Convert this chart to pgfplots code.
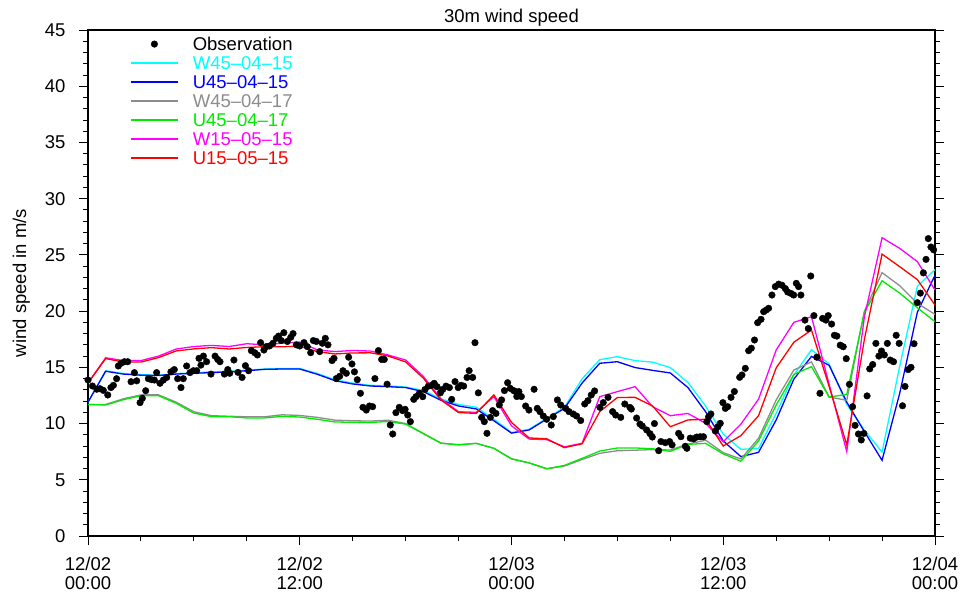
\documentclass[border=0pt]{standalone}
\usepackage{fontspec}
\setmainfont{Liberation Sans}
\newfontfamily\fcyan{Liberation Sans}[Color=00FFFF]
\newfontfamily\fblue{Liberation Sans}[Color=0000FF]
\newfontfamily\fgray{Liberation Sans}[Color=8C8C8C]
\newfontfamily\fgreen{Liberation Sans}[Color=00EB00]
\newfontfamily\fmag{Liberation Sans}[Color=FF00FF]
\newfontfamily\fred{Liberation Sans}[Color=FF0000]
\usepackage{pgfplots}
\pgfplotsset{compat=1.18}
\definecolor{mgray}{RGB}{140,140,140}
\definecolor{mgreen}{RGB}{0,235,0}
\definecolor{mcyan}{RGB}{0,255,255}
\definecolor{mblue}{RGB}{0,0,255}
\definecolor{mmag}{RGB}{255,0,255}
\definecolor{mred}{RGB}{255,0,0}
\pgfplotsset{
  lineleg/.style={legend image code/.code={\draw[#1,line width=1.8pt] (0pt,2.5pt) -- (47pt,2.5pt);}},
}

\pgfplotstableread{
h W4515 U4515 W4517 U4517 W1505 U1505
0 11.9 11.9 11.7 11.7 13.6 13.6
1 14.7 14.65 11.7 11.65 15.85 15.78
2 14.45 14.4 12.2 12.12 15.6 15.47
3 14.35 14.3 12.55 12.47 15.6 15.47
4 14.3 14.27 12.55 12.47 16.0 15.87
5 14.45 14.4 11.9 11.8 16.63 16.46
6 14.5 14.47 11.05 10.93 16.85 16.64
7 14.6 14.53 10.7 10.61 16.95 16.75
8 14.65 14.59 10.65 10.61 16.85 16.63
9 14.75 14.7 10.6 10.5 17.1 16.77
10 14.85 14.82 10.6 10.5 17.0 16.83
11 14.9 14.85 10.78 10.64 17.15 16.83
12 14.9 14.85 10.72 10.58 17.25 16.89
13 14.45 14.38 10.55 10.38 16.55 16.39
14 13.9 13.81 10.3 10.14 16.4 16.19
15 13.6 13.52 10.25 10.11 16.5 16.28
16 13.4 13.34 10.22 10.1 16.45 16.29
17 13.35 13.28 10.3 10.18 16.1 16.01
18 13.25 13.2 10.0 9.95 15.65 15.48
19 12.95 12.84 9.13 9.1 14.2 14.05
20 12.2 12.07 8.27 8.25 12.2 12.1
21 11.7 11.56 8.12 8.1 11.05 10.98
22 11.45 11.3 8.24 8.24 11.0 10.9
23 10.4 10.25 7.8 7.8 12.4 12.55
24 9.2 9.15 6.88 6.85 9.8 10.1
25 9.5 9.43 6.5 6.5 8.62 8.72
26 10.47 10.4 5.98 5.98 8.57 8.64
27 11.44 11.35 6.22 6.28 7.93 7.86
28 13.98 13.6 6.8 6.9 8.24 8.2
29 15.68 15.36 7.35 7.55 12.39 11.06
30 15.95 15.5 7.58 7.83 12.84 12.32
31 15.6 14.98 7.63 7.83 13.28 12.33
32 15.46 14.73 7.68 7.76 11.5 11.56
33 14.98 14.5 7.65 7.53 10.7 9.72
34 13.65 13.2 8.18 8.15 10.9 10.32
35 11.55 11.05 8.52 8.24 10.02 10.38
36 9.05 8.45 7.41 7.3 8.39 8.0
37 7.71 7.06 6.85 6.65 9.95 8.93
38 7.78 7.44 8.69 8.45 12.17 10.7
39 10.91 10.32 12.1 11.65 16.54 14.95
40 14.32 13.95 14.76 14.37 19.0 17.23
41 16.57 15.97 15.48 15.06 19.5 18.32
42 15.3 15.18 12.36 12.35 13.5 13.3
43 11.7 11.9 12.07 12.6 7.5 8.1
44 9.4 9.28 20.0 19.9 19.5 17.5
45 7.47 6.73 23.42 22.7 26.53 25.07
46 15.1 12.69 22.26 21.6 25.58 23.95
47 22.2 19.9 20.69 20.3 24.4 22.8
48 23.7 23.2 19.71 19.06 21.88 20.54
}\models

\pgfplotstableread{
h v
0.0 13.87
0.25 13.34
0.5 13.05
0.68 13.1
0.87 12.95
1.12 12.54
1.3 13.2
1.44 13.4
1.62 13.99
1.72 15.12
1.87 15.36
2.06 15.5
2.25 15.5
2.44 13.72
2.63 14.53
2.76 13.8
2.95 11.86
3.08 12.24
3.27 12.92
3.42 13.99
3.6 13.9
3.76 13.87
3.89 14.53
4.08 13.58
4.27 13.87
4.46 14.1
4.7 14.6
4.89 14.8
5.08 13.99
5.27 13.2
5.4 13.99
5.59 15.12
5.78 14.53
5.97 14.7
6.16 14.7
6.29 15.8
6.4 15.2
6.54 16.0
6.72 15.5
6.97 14.4
7.2 16.0
7.35 15.7
7.48 15.5
7.73 14.4
7.92 14.8
8.03 14.47
8.27 15.65
8.5 14.55
8.73 14.1
8.92 15.15
9.1 14.7
9.26 16.48
9.45 16.3
9.6 16.1
9.78 17.19
9.97 16.54
10.1 16.84
10.29 16.9
10.48 17.14
10.67 17.58
10.8 17.78
10.95 17.38
11.1 18.08
11.3 17.3
11.49 17.67
11.62 18.0
11.81 17.0
12.0 16.9
12.24 17.2
12.43 16.84
12.62 16.3
12.77 17.38
12.94 17.3
13.13 16.4
13.28 17.14
13.45 17.58
13.6 17.0
13.83 15.6
13.94 15.8
14.07 14.0
14.26 14.2
14.45 14.7
14.64 14.47
14.77 15.9
14.96 15.3
15.1 14.6
15.26 13.9
15.44 12.69
15.58 11.44
15.77 11.2
15.95 11.56
16.13 11.5
16.26 14.0
16.46 16.49
16.64 15.7
16.79 15.7
16.95 13.5
17.13 9.87
17.27 9.07
17.45 10.97
17.64 11.44
17.83 11.15
17.97 11.27
18.12 10.76
18.27 10.17
18.46 12.15
18.59 12.39
18.78 12.69
18.97 12.39
19.1 13.03
19.29 13.33
19.47 13.4
19.62 13.58
19.78 13.28
19.97 12.73
20.1 13.03
20.29 13.33
20.48 13.2
20.61 12.15
20.8 13.73
20.98 13.2
21.14 13.4
21.29 13.33
21.48 14.1
21.6 14.7
21.8 14.1
21.93 17.19
22.12 12.73
22.31 10.55
22.46 10.17
22.61 9.13
22.8 10.55
22.93 11.15
23.12 10.9
23.31 11.66
23.44 12.1
23.6 12.93
23.78 13.63
23.93 13.13
24.12 12.93
24.24 12.84
24.3 12.4
24.42 12.84
24.56 12.4
24.8 11.56
24.99 11.2
25.28 13.05
25.46 11.35
25.61 11.06
25.8 10.67
25.99 10.38
26.25 9.87
26.37 10.62
26.6 12.1
26.79 11.65
27.07 11.35
27.26 11.06
27.5 10.85
27.69 10.67
27.92 10.27
28.15 11.74
28.33 12.03
28.52 12.54
28.71 12.9
29.01 11.44
29.2 11.86
29.47 12.33
29.73 11.06
29.9 10.76
30.19 10.55
30.42 11.74
30.71 11.44
30.79 11.29
31.09 10.49
31.28 9.96
31.41 9.78
31.66 9.43
31.85 9.1
31.98 8.8
32.1 10.0
32.34 7.59
32.47 8.4
32.72 8.3
32.96 8.4
33.1 8.1
33.47 9.13
33.6 8.83
33.85 7.98
33.94 7.8
34.13 8.7
34.32 8.64
34.5 8.8
34.7 8.83
34.88 8.83
35.07 10.17
35.17 10.6
35.3 10.85
35.55 9.34
35.7 9.72
35.83 10.02
35.98 11.86
36.12 11.35
36.25 11.5
36.44 12.33
36.63 12.85
36.93 14.11
37.06 14.32
37.25 14.91
37.44 16.48
37.59 16.7
37.77 17.43
37.95 18.97
38.14 19.27
38.29 19.95
38.44 20.1
38.57 20.25
38.76 21.43
38.95 22.18
39.14 22.4
39.33 22.3
39.52 22.0
39.65 21.7
39.84 21.57
39.99 21.43
40.14 22.47
40.27 22.18
40.4 21.43
40.63 19.2
40.82 18.45
40.96 23.12
41.14 19.6
41.3 15.9
41.48 12.69
41.63 19.35
41.82 19.2
41.95 19.6
42.14 18.85
42.3 17.85
42.44 17.78
42.63 16.97
42.8 16.83
42.97 15.77
43.15 13.49
43.33 11.5
43.47 9.84
43.66 9.07
43.82 8.54
43.97 9.12
44.15 12.46
44.3 14.86
44.47 15.25
44.65 17.13
44.82 16.0
44.97 16.45
45.13 16.1
45.3 17.13
45.46 15.65
45.65 15.5
45.8 17.85
45.97 17.13
46.16 11.58
46.3 13.3
46.48 14.8
46.64 15.0
46.81 17.1
47.0 20.75
47.17 21.6
47.34 23.4
47.49 24.6
47.62 26.45
47.77 25.7
47.92 25.45
}\obs

\begin{document}
\begin{tikzpicture}
\begin{axis}[
  at={(88pt,58pt)}, anchor=south west,
  scale only axis, width=847pt, height=506pt,
  xmin=0, xmax=48, ymin=0, ymax=45,
  font=\fontsize{18.5pt}{19pt}\selectfont,
  /pgf/number format/assume math mode=true,
  xtick={0,12,24,36,48},
  xticklabels={{12/02\\00:00},{12/02\\12:00},{12/03\\00:00},{12/03\\12:00},{12/04\\00:00}},
  xticklabel style={align=center, font=\fontsize{18.5pt}{18.5pt}\selectfont, yshift=-9pt},
  yticklabel style={xshift=-10pt},
  minor tick num=3,
  ytick={0,5,...,45},
  minor y tick num=4,
  tick align=outside,
  xtick pos=lower, ytick pos=both,
  major tick length=9pt, minor tick length=4.5pt,
  every tick/.style={black, line width=0.9pt},
  axis line style={line width=1.1pt},
  title={30m wind speed},
  title style={at={(0.5,1)}, anchor=base, yshift=1.3pt},
  ylabel={wind speed in m/s},
  ylabel style={at={(axis description cs:-0.0732,0.5)}, anchor=base},
  legend style={draw=none, fill=none, inner sep=0pt, outer sep=0pt,
    at={(axis description cs:0.0496,0.986)}, anchor=north west,
    nodes={inner sep=0pt, text height=13.5pt, text depth=5.5pt},
    /tikz/every odd column/.append style={column sep=14pt}},
  legend cell align=left,
]
\addplot[only marks, mark=*, mark size=3.3pt, black,
  legend image code/.code={\draw[black, fill=black] (23.5pt,2.5pt) circle[radius=3.3pt];}] table[x=h, y=v] {\obs};
\addlegendentry{Observation}
\addplot[mcyan, line width=1.3pt, lineleg=mcyan] table[x=h, y=W4515] {\models};
\addlegendentry{\fcyan W45–04–15}
\addplot[mblue, line width=1.3pt, lineleg=mblue] table[x=h, y=U4515] {\models};
\addlegendentry{\fblue U45–04–15}
\addplot[mgray, line width=1.3pt, lineleg=mgray] table[x=h, y=W4517] {\models};
\addlegendentry{\fgray W45–04–17}
\addplot[mgreen, line width=1.3pt, lineleg=mgreen] table[x=h, y=U4517] {\models};
\addlegendentry{\fgreen U45–04–17}
\addplot[mmag, line width=1.3pt, lineleg=mmag] table[x=h, y=W1505] {\models};
\addlegendentry{\fmag W15–05–15}
\addplot[mred, line width=1.3pt, lineleg=mred] table[x=h, y=U1505] {\models};
\addlegendentry{\fred U15–05–15}
\end{axis}
\pgfresetboundingbox
\useasboundingbox (0,0) rectangle (961pt,594pt);
\end{tikzpicture}
\end{document}
